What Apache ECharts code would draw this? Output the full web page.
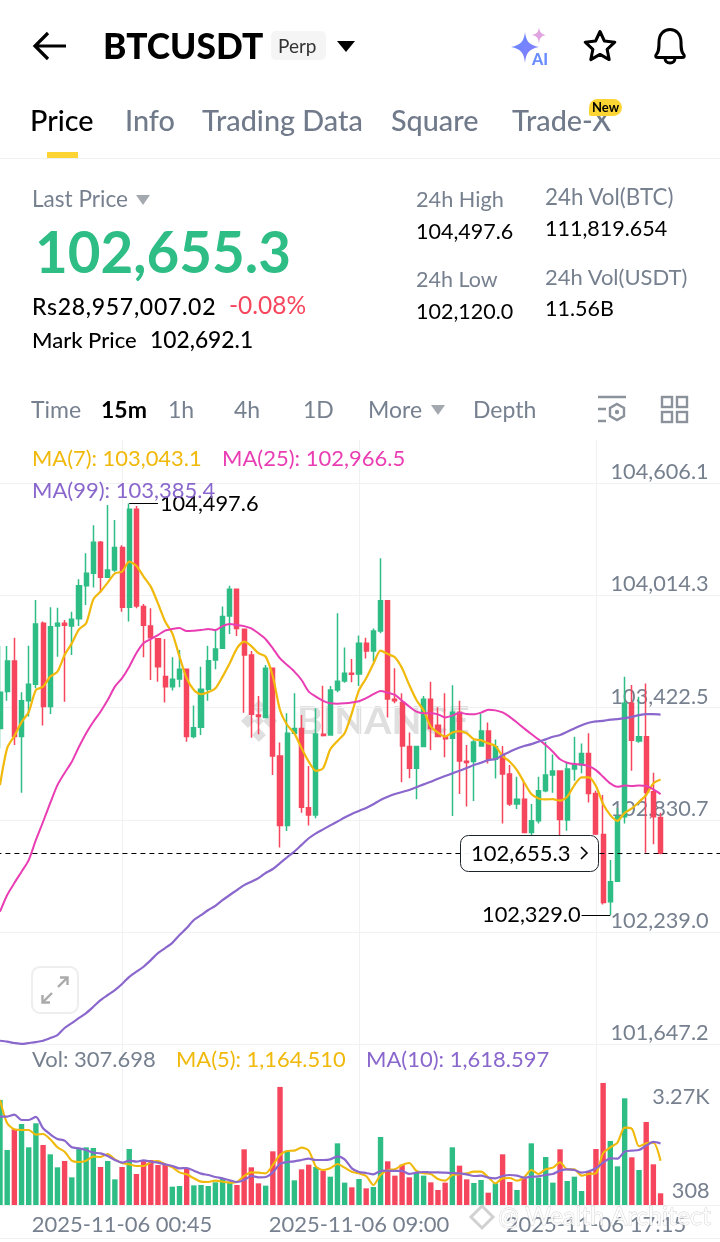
<!DOCTYPE html>
<html><head><meta charset="utf-8"><title>BTCUSDT</title>
<script src="https://cdn.jsdelivr.net/npm/echarts@6/dist/echarts.min.js"></script>
<style>
html,body{margin:0;padding:0;background:#fff;width:720px;height:1242px;overflow:hidden;font-family:Lato,"Open Sans",sans-serif}
#chart{position:absolute;left:0;top:0;width:720px;height:1242px}
.t{position:absolute;white-space:nowrap;line-height:1;transform:translateY(calc(-50% - 0.5px))}
.g{color:#76808f}.k{color:#000}
.tab{font-size:28.8px;font-weight:500}
.s21{font-size:21.5px}
.tri{position:absolute;width:0;height:0;border-left:7px solid transparent;border-right:7px solid transparent;border-top:10px solid #a4a9b0}
.ln{position:absolute;left:0;width:720px;height:1px;background:#eef0f2}
svg{position:absolute}
</style></head><body>
<div id="chart"></div>
<svg style="left:31px;top:30px" width="38" height="32" viewBox="0 0 38 32"><path d="M35 16H5M17 3L4 16l13 13" fill="none" stroke="#000" stroke-width="3.2"/></svg>
<div class="t k" style="left:103px;top:46px;font-size:35.300px;font-weight:900">BTCUSDT</div>
<div style="position:absolute;left:271px;top:31px;width:55px;height:29px;background:#f5f5f5;border-radius:5px"></div>
<div class="t" style="left:278px;top:46px;font-size:19px;color:#333">Perp</div>
<div class="tri" style="left:337px;top:41px;border-left-width:9px;border-right-width:9px;border-top:11px solid #000"></div>
<svg style="left:510px;top:26px" width="40" height="42" viewBox="0 0 40 42"><defs><linearGradient id="ai" x1="0" y1="0" x2="1" y2="1"><stop offset="0" stop-color="#5f8bff"/><stop offset="1" stop-color="#8f7bff"/></linearGradient></defs><path d="M15 6C16 15 19 19 29 21 19 23 16 27 15 37 14 27 11 23 1 21 11 19 14 15 15 6Z" fill="url(#ai)"/><path d="M29 1C29.500 6 31 8 36 9 31 10 29.500 12 29 18 28.500 12 27 10 22 9 27 8 28.500 6 29 1Z" fill="#e0a4e0"/><text x="22" y="39" font-family="Lato" font-weight="900" font-size="16" fill="#6a8dff">AI</text></svg>
<svg style="left:582px;top:28px" width="36" height="36" viewBox="0 0 36 36"><path d="M18 3.500L22.400 13 32.800 14.200 25.100 21.300 27.200 31.600 18 26.400 8.800 31.600 10.900 21.300 3.200 14.200 13.600 13Z" fill="none" stroke="#000" stroke-width="3" stroke-linejoin="round"/></svg>
<svg style="left:651px;top:26px" width="38" height="40" viewBox="0 0 38 40"><path d="M5 29C8 26 8 22 8 16 8 8 13 3.500 19 3.500S30 8 30 16C30 22 30 26 33 29 34 31 33 31.500 31 31.500H7C5 31.500 4 31 5 29Z" fill="none" stroke="#000" stroke-width="3" stroke-linejoin="round"/><path d="M14 32C14 35 16 37 19 37S24 35 24 32" fill="none" stroke="#000" stroke-width="3"/></svg>

<div class="t tab k" style="left:30px;top:121px">Price</div>
<div class="t tab g" style="left:125px;top:121px;color:#707a8a">Info</div>
<div class="t tab g" style="left:202px;top:121px;color:#707a8a">Trading Data</div>
<div class="t tab g" style="left:391px;top:121px;color:#707a8a">Square</div>
<div class="t tab g" style="left:512px;top:121px;color:#707a8a">Trade-X</div>
<div style="position:absolute;left:589px;top:99px;width:33px;height:17px;border-radius:9px 9px 9px 2px;background:#fcd535"></div>
<div class="t" style="left:592px;top:108px;font-size:13px;font-weight:700;color:#000">New</div>
<div style="position:absolute;left:47px;top:152px;width:31px;height:6px;background:#fcd535"></div>
<div class="ln" style="top:158px"></div>

<div class="t g" style="left:32px;top:200px;font-size:22.600px">Last Price</div>
<div class="tri" style="left:136px;top:195px"></div>
<div class="t" style="left:35px;top:252px;font-size:56.500px;font-weight:700;color:#2ebd85">102,655.3</div>
<div class="t k" style="left:32px;top:307px;font-size:23px;font-weight:500;letter-spacing:.7px">Rs28,957,007.02</div>
<div class="t" style="left:229px;top:306px;font-size:24.500px;color:#f6465d">-0.08%</div>
<div class="t k" style="left:32px;top:340px;font-size:22px;font-weight:500">Mark Price</div>
<div class="t k" style="left:150px;top:340px;font-size:22.800px;font-weight:500">102,692.1</div>
<div class="t g" style="left:416px;top:200px;font-size:21.700px">24h High</div>
<div class="t k s21" style="left:416px;top:232px">104,497.6</div>
<div class="t g s21" style="left:416px;top:280px">24h Low</div>
<div class="t k s21" style="left:416px;top:312px">102,120.0</div>
<div class="t g" style="left:545px;top:198px;font-size:22.400px">24h Vol(BTC)</div>
<div class="t k s21" style="left:545px;top:229px">111,819.654</div>
<div class="t g" style="left:545px;top:277px;font-size:22px">24h Vol(USDT)</div>
<div class="t k s21" style="left:545px;top:309px">11.56B</div>

<div class="t g" style="left:31px;top:410px;font-size:23px">Time</div>
<div class="t k" style="left:101px;top:410px;font-size:23px;font-weight:700">15m</div>
<div class="t g" style="left:168px;top:410px;font-size:23px">1h</div>
<div class="t g" style="left:234px;top:410px;font-size:23px">4h</div>
<div class="t g" style="left:303px;top:410px;font-size:23px">1D</div>
<div class="t g" style="left:368px;top:410px;font-size:23px">More</div>
<div class="tri" style="left:431px;top:405px"></div>
<div class="t g" style="left:473px;top:410px;font-size:23px">Depth</div>
<svg style="left:597px;top:394px" width="30" height="32" viewBox="0 0 30 32"><path d="M1 3H29M1 15H9M1 27H9" stroke="#8b929c" stroke-width="2.400" fill="none"/><path d="M20 10L27 14V22L20 26 13 22V14Z" fill="none" stroke="#8b929c" stroke-width="2.400"/><circle cx="20" cy="18" r="2.200" fill="#8b929c"/></svg>
<svg style="left:660px;top:395px" width="30" height="30" viewBox="0 0 30 30"><g fill="none" stroke="#8b929c" stroke-width="2.400"><rect x="2" y="2" width="10" height="10"/><rect x="17" y="2" width="10" height="10"/><rect x="2" y="17" width="10" height="10"/><rect x="17" y="17" width="10" height="10"/></g></svg>
<div class="ln" style="top:1238px"></div>

<script>
// 15-minute candles, 2025-11-05 20:30 onward
const categories = ["20:30","20:45","21:00","21:15","21:30","21:45","22:00","22:15","22:30","22:45","23:00","23:15","23:30","23:45","00:00","00:15","00:30","00:45","01:00","01:15","01:30","01:45","02:00","02:15","02:30","02:45","03:00","03:15","03:30","03:45","04:00","04:15","04:30","04:45","05:00","05:15","05:30","05:45","06:00","06:15","06:30","06:45","07:00","07:15","07:30","07:45","08:00","08:15","08:30","08:45","09:00","09:15","09:30","09:45","10:00","10:15","10:30","10:45","11:00","11:15","11:30","11:45","12:00","12:15","12:30","12:45","13:00","13:15","13:30","13:45","14:00","14:15","14:30","14:45","15:00","15:15","15:30","15:45","16:00","16:15","16:30","16:45","17:00","17:15","17:30","17:45","18:00","18:15","18:30","18:45","19:00","19:15","19:30"];
const timeTicks = {"00:45":"2025-11-06 00:45","09:00":"2025-11-06 09:00","17:15":"2025-11-06 17:15"};
const priceTicks = [101647.2,102239.0,102830.7,103422.5,104014.3,104606.1];
const opens = [103313,103507,103668,103270,103458,103545,103867,103428,103853,103867,103853,103891,104065,104130,104294,104109,104148,104266,103951,104468,103955,103853,103786,103586,103533,103573,103624,103270,103319,103519,103674,103735,103905,104046,103835,103700,103384,103371,103630,103168,102801,103287,103313,102895,102857,103282,103278,103515,103563,103603,103600,103761,103721,103826,103986,103466,103450,103217,103103,103217,103466,103329,103270,103261,103398,103140,103138,103220,103299,103150,103172,103072,102914,102940,102765,102826,102984,103067,103088,102830,103099,103120,103181,102970,102754,102399,102508,102847,103445,103246,103269,102979,102844];
const closes = [103503,103668,103270,103458,103545,103863,103428,103849,103867,103856,103888,104064,104130,104294,104109,104148,104266,103951,104468,103958,103856,103790,103638,103533,103572,103624,103270,103317,103519,103670,103732,103902,104046,103840,103700,103387,103375,103630,103168,102801,103287,103313,102897,102857,103284,103275,103515,103561,103603,103598,103761,103721,103826,103986,103468,103458,103220,103103,103217,103466,103313,103270,103259,103398,103141,103133,103241,103299,103150,103216,103072,102914,102940,102765,102826,102984,103067,103088,102833,103099,103120,103181,102970,102756,102396,102505,102847,103445,103251,103269,102976,102847,102655.3];
const lows = [103208,103459,103226,102974,103375,103524,103328,103389,103691,103454,103700,103853,103963,104055,104028,104109,104139,103928,103876,103946,103688,103568,103559,103450,103512,103530,103243,103261,103278,103458,103624,103735,103811,103800,103396,103264,103282,103366,103068,102685,102772,103287,102869,102801,102839,103270,103278,103503,103554,103556,103537,103681,103665,103814,103371,103445,103029,103050,102939,103217,103199,103266,103161,102851,102967,102901,102931,103220,103128,103049,102812,102904,102888,102765,102689,102812,102976,102974,102689,102774,103037,103076,102923,102751,102385,102329,102508,102812,103090,103237,102658,102702,102650];
const highs = [103747,103747,103790,103503,103749,103990,103876,103951,103949,103884,103927,104099,104236,104383,104301,104490,104411,104278,104497.6,104485,103969,103946,103786,103784,103688,103726,103624,103433,103638,103749,103832,103955,104064,104046,103835,103721,103484,103647,103630,103238,103393,103498,103384,103115,103419,103538,103537,103920,103739,103679,103802,103790,103839,104209,103986,103630,103498,103291,103217,103484,103559,103424,103498,103540,103458,103226,103252,103392,103344,103255,103220,103120,103058,103032,102914,103058,103243,103176,103088,103132,103269,103234,103287,102984,102962,102619,102895,103585,103541,103480,103550,103079,102868];
const ma7 = [103014,103209,103273,103346,103399,103515,103533,103586,103612,103700,103761,103835,103867,103993,104034,104081,104130,104139,104192,104169,104113,104060,103972,103876,103814,103691,103577,103515,103493,103503,103524,103586,103656,103735,103770,103747,103709,103691,103586,103410,103331,103287,103208,103138,103089,103103,103203,103247,103287,103393,103515,103577,103653,103723,103705,103688,103630,103542,103463,103407,103322,103291,103270,103291,103298,103287,103256,103251,103234,103220,103167,103137,103093,103028,102967,102944,102939,102940,102932,102953,103014,103055,103055,103009,102914,102856,102826,102868,102891,102926,102962,103023,103043.1];
const ma25 = [102347,102435,102498,102558,102619,102725,102821,102920,103014,103078,103137,103216,103288,103348,103401,103462,103533,103578,103638,103710,103763,103784,103805,103828,103837,103842,103826,103828,103831,103837,103831,103852,103863,103858,103852,103840,103814,103783,103735,103682,103647,103612,103568,103507,103480,103458,103445,103443,103445,103449,103456,103472,103493,103510,103501,103489,103459,103428,103401,103393,103393,103387,103371,103380,103396,103389,103387,103396,103411,103408,103397,103374,103344,103313,103283,103255,103225,103190,103150,103132,103125,103123,103114,103093,103058,103023,103005,103012,103009,103012,103009,102991,102966.5];
const ma99 = [101667,101662,101655,101650,101655,101660,101667,101681,101697,101734,101760,101787,101813,101846,101881,101908,101934,101966,102004,102031,102057,102092,102129,102155,102183,102224,102261,102303,102329,102356,102378,102408,102435,102461,102487,102505,102524,102551,102572,102603,102634,102664,102699,102734,102760,102781,102802,102822,102843,102862,102878,102894,102913,102936,102953,102967,102978,102988,103003,103018,103032,103048,103062,103076,103090,103104,103120,103132,103146,103151,103172,103190,103207,103220,103230,103243,103255,103269,103278,103295,103313,103330,103343,103350,103353,103359,103362,103367,103374,103383,103388,103388,103385.4];
const volumes = [2763,1447,1991,2131,1517,2149,1579,1333,991,1158,728,1491,1517,1500,1000,1158,675,1000,1473,816,1166,1184,1052,1052,482,500,965,517,526,500,596,702,614,526,1465,991,570,509,1412,3105,1430,649,938,1061,1000,903,745,1622,588,465,684,438,474,1789,1149,772,1061,728,859,772,596,395,588,1517,1035,675,579,658,324,570,1333,605,395,702,1622,719,1263,588,1465,631,745,368,877,1473,3210,1684,1017,2806,1254,921,2184,1070,307.698];
const volMa5 = [2763,2149,1991,1973,1973,1850,1868,1728,1517,1403,1166,1131,1166,1272,1263,1342,1201,1105,1070,1026,1026,1123,1158,1070,991,859,807,702,614,605,640,614,588,605,763,859,851,833,1052,1316,1421,1430,1508,1430,1009,921,965,1079,982,877,833,763,526,789,921,938,1052,1105,895,833,816,684,640,789,807,833,877,877,728,570,702,710,640,728,921,816,938,982,1123,938,938,772,816,833,1359,1517,1640,2035,2008,1544,1622,1640,1164.51];
const volMa10 = [2324,2324,2377,2236,2236,2315,2017,1859,1736,1693,1517,1491,1447,1377,1359,1289,1184,1114,1166,1140,1175,1140,1114,1070,1026,965,973,903,824,789,737,702,649,605,658,763,728,737,859,1079,1131,1149,1184,1219,1184,1184,1201,1280,1201,965,868,842,807,895,903,895,895,816,851,868,859,859,851,842,833,807,763,772,719,702,763,789,772,719,745,754,789,816,903,938,921,851,886,965,1114,1228,1219,1403,1430,1447,1561,1658,1618.597];
const volumeTicks = [308,3270];
const volumeTickLabels = {308:'308',3270:'3.27K'};

const UP='#2ebd85', DOWN='#f6465d', FONT='Lato';
const YEL='#f0b90b', PINK='#e93eb3', PUR='#8a67cc', GRID='#f0f1f2', AXT='#76808f';
const candles = categories.map((c,i)=>[opens[i],closes[i],lows[i],highs[i]]);
const volBars = volumes.map((v,i)=>({value:v,itemStyle:{color:closes[i]>=opens[i]?UP:DOWN}}));
const fmt = v => v.toLocaleString('en-US',{minimumFractionDigits:1,maximumFractionDigits:1});
const line = (name,data,color,xi,w)=>({name,type:'line',data,xAxisIndex:xi,yAxisIndex:xi,showSymbol:false,smooth:0.25,z:4,
  lineStyle:{color,width:w},itemStyle:{color},silent:true});
const txt = (x,y,s,fill,size,extra)=>({type:'text',x,y,silent:true,z:20,style:Object.assign({text:s,fill,font:`${size}px ${FONT}`,textAlign:'left',textVerticalAlign:'middle'},extra||{})});

const chart = echarts.init(document.getElementById('chart'),null,{width:720,height:1242});
const sharedX = {type:'category',data:categories,max:100,boundaryGap:true,axisTick:{show:false},
  splitLine:{show:true,alignWithLabel:true,interval:(i,v)=>v in timeTicks,lineStyle:{color:GRID,width:1}}};
chart.setOption({
  animation:false,
  backgroundColor:'#fff',
  grid:[{left:-3.59,top:440,width:725.18,height:604.5,outerBoundsMode:'none'},{left:-3.59,top:1044.5,width:725.18,height:160.5,outerBoundsMode:'none'}],
  xAxis:[
    Object.assign({},sharedX,{gridIndex:0,axisLine:{show:false},axisLabel:{show:false}}),
    Object.assign({},sharedX,{gridIndex:1,axisLine:{show:true,lineStyle:{color:GRID}},
      axisLabel:{show:true,interval:(i,v)=>v in timeTicks,formatter:v=>timeTicks[v]||'',color:AXT,fontFamily:FONT,fontSize:22,margin:9,hideOverlap:false}})
  ],
  yAxis:[
    {type:'value',gridIndex:0,position:'right',min:101647.2,max:104832.7,scale:true,axisLine:{show:false},
     axisTick:{show:false,customValues:priceTicks},
     splitLine:{show:true,lineStyle:{color:GRID,width:1}},
     axisLabel:{inside:true,customValues:priceTicks,margin:13,formatter:fmt,color:AXT,fontFamily:FONT,fontSize:21.7,verticalAlign:'bottom',padding:[0,0,0,0],showMinLabel:true,showMaxLabel:true}},
    {type:'value',gridIndex:1,position:'right',min:0,max:4221,axisLine:{show:false},
     axisTick:{show:false,customValues:volumeTicks},splitLine:{show:false},
     axisLabel:{inside:true,customValues:volumeTicks,margin:12,color:AXT,fontFamily:FONT,fontSize:21.7,showMinLabel:true,showMaxLabel:true,
       formatter:v=>v===3270?'{top|3.27K}':'{mid|'+volumeTickLabels[v]+'}',
       rich:{top:{color:AXT,fontFamily:FONT,fontSize:21.7,padding:[32,0,0,0]},mid:{color:AXT,fontFamily:FONT,fontSize:21.7,padding:[0,0,4,0]}}}}
  ],
  series:[
    {name:'BTCUSDT',type:'candlestick',data:candles,xAxisIndex:0,yAxisIndex:0,barWidth:4.6,z:3,silent:true,
     itemStyle:{color:UP,color0:DOWN,borderColor:UP,borderColor0:DOWN,borderWidth:1.5},
     markLine:{silent:true,symbol:'none',animation:false,z:6,
       data:[
        {yAxis:102655.3,lineStyle:{color:'#000',type:[5,4],width:1},label:{show:false}},
        [{coord:[18,104497.6],lineStyle:{color:'#000',width:1,type:'solid'},label:{show:true,position:'end',distance:2,formatter:'104,497.6',color:'#000',fontFamily:FONT,fontSize:21.8}},{coord:[22,104497.6]}],
        [{coord:[81,102329.0],lineStyle:{color:'#000',width:1,type:'solid'},label:{show:true,position:'start',distance:1,formatter:'102,329.0',color:'#000',fontFamily:FONT,fontSize:21.8}},{coord:[85,102329.0]}]
       ]}},
    line('MA(7)',ma7,YEL,0,2.2),
    line('MA(25)',ma25,PINK,0,2),
    line('MA(99)',ma99,PUR,0,2.2),
    {name:'Vol',type:'bar',data:volBars,xAxisIndex:1,yAxisIndex:1,barWidth:5.4,z:3,silent:true},
    line('MA(5)',volMa5,YEL,1,2.1),
    line('MA(10)',volMa10,PUR,1,2.2)
  ],
  graphic:{elements:[
    // watermark
    {type:'group',x:259,y:721,z:0,silent:true,children:[
      {type:'polygon',shape:{points:[[0,-21],[7,-14],[0,-7],[-7,-14]]},style:{fill:'#dfdfdf'}},
      {type:'polygon',shape:{points:[[0,21],[7,14],[0,7],[-7,14]]},style:{fill:'#dfdfdf'}},
      {type:'polygon',shape:{points:[[-18,0],[-11,-7],[-4,0],[-11,7]]},style:{fill:'#dfdfdf'}},
      {type:'polygon',shape:{points:[[18,0],[11,-7],[4,0],[11,7]]},style:{fill:'#dfdfdf'}},
      {type:'polygon',shape:{points:[[0,-5],[5,0],[0,5],[-5,0]]},style:{fill:'#dfdfdf'}}]},
    {type:'text',x:297,y:721,z:0,silent:true,style:{text:'BINANCE',fill:'#dfdfdf',font:`bold 39px ${FONT}`,textVerticalAlign:'middle'}},
    // legends
    txt(32,459,'MA(7): 103,043.1',YEL,21.9),
    txt(222,459,'MA(25): 102,966.5',PINK,22),
    txt(32,491,'MA(99): 103,385.4',PUR,22),
    txt(32,1060,'Vol: 307.698',AXT,22),
    txt(176,1060,'MA(5): 1,164.510',YEL,21.9),
    txt(366,1060,'MA(10): 1,618.597',PUR,22),
    // last-price pill
    {type:'rect',z:18,silent:true,shape:{x:460.5,y:835.5,width:138,height:36,r:8},style:{fill:'rgba(255,255,255,0.95)',stroke:'#1e2329',lineWidth:1}},
    txt(471,853.5,'102,655.3','#000',22,{}),
    {type:'polyline',z:20,silent:true,shape:{points:[[581,847],[587,853],[581,859]]},style:{stroke:'#000',lineWidth:1.6,fill:'none'}},
    // expand button
    {type:'rect',z:18,silent:true,shape:{x:32,y:967,width:46,height:46,r:8},style:{fill:'rgba(255,255,255,0.9)',stroke:'#eeeeee',lineWidth:2}},
    {type:'polyline',z:20,silent:true,shape:{points:[[58,987],[67,978]]},style:{stroke:'#aaa',lineWidth:2.4,fill:'none'}},
    {type:'polyline',z:20,silent:true,shape:{points:[[60,977.5],[67.5,977.5],[67.5,985]]},style:{stroke:'#aaa',lineWidth:2.4,fill:'none'}},
    {type:'polyline',z:20,silent:true,shape:{points:[[43,1002],[52,993]]},style:{stroke:'#aaa',lineWidth:2.4,fill:'none'}},
    {type:'polyline',z:20,silent:true,shape:{points:[[42.5,995],[42.5,1002.5],[50,1002.5]]},style:{stroke:'#aaa',lineWidth:2.4,fill:'none'}},
    // credit watermark
    {type:'text',x:498,y:1217,z:22,silent:true,style:{text:'@ Wealth Architect',fill:'rgba(255,255,255,0.85)',font:`25px ${FONT}`,textVerticalAlign:'middle',stroke:'rgba(170,170,170,0.55)',lineWidth:0.8}},
    {type:'polygon',z:22,silent:true,x:482,y:1217,shape:{points:[[0,-11],[11,0],[0,11],[-11,0]]},style:{fill:'none',stroke:'rgba(190,190,190,0.7)',lineWidth:3}}
  ]}
});
</script>
</body></html>
